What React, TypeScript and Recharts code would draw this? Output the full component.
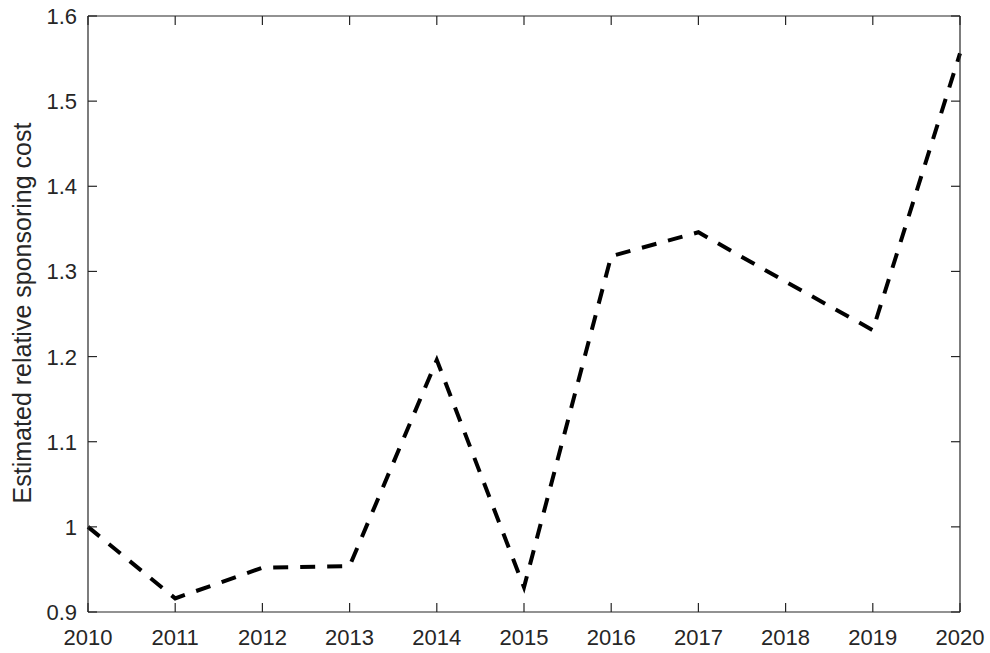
import { LineChart, Line, XAxis, YAxis } from "recharts";

const years = [2010, 2011, 2012, 2013, 2014, 2015, 2016, 2017, 2018, 2019, 2020];
const cost = [1.0, 0.916, 0.952, 0.954, 1.196, 0.929, 1.318, 1.346, 1.288, 1.231, 1.556];
const yTicks = [0.9, 1.0, 1.1, 1.2, 1.3, 1.4, 1.5, 1.6];

const data = years.map((year, i) => ({ year, cost: cost[i] }));

const AXIS = "#262626";
const FONT = "'Liberation Sans', Arial, sans-serif";
const TICK = 9;

const fmt = (v: number) => String(Number(v.toFixed(1)));

const BottomTick = (props: any) => {
  const { x, y, payload } = props;
  return (
    <g>
      <line x1={x} y1={y} x2={x} y2={y - TICK} stroke={AXIS} strokeWidth={1.2} />
      <text x={x} y={y + 33} textAnchor="middle" fontSize={22} fill={AXIS} fontFamily={FONT}>
        {payload.value}
      </text>
    </g>
  );
};

const TopTick = (props: any) => {
  const { x, y } = props;
  return <line x1={x} y1={y} x2={x} y2={y + TICK} stroke={AXIS} strokeWidth={1.2} />;
};

const LeftTick = (props: any) => {
  const { x, y, payload } = props;
  return (
    <g>
      <line x1={x} y1={y} x2={x + TICK} y2={y} stroke={AXIS} strokeWidth={1.2} />
      <text x={x - 11} y={y + 8} textAnchor="end" fontSize={22} fill={AXIS} fontFamily={FONT}>
        {fmt(payload.value)}
      </text>
    </g>
  );
};

const RightTick = (props: any) => {
  const { x, y } = props;
  return <line x1={x} y1={y} x2={x - TICK} y2={y} stroke={AXIS} strokeWidth={1.2} />;
};

export default function App() {
  return (
    <div style={{ position: "absolute", left: 0, top: 0, width: 990, height: 653, background: "#fff" }}>
      <LineChart width={990} height={653} data={data} margin={{ top: 15, right: 29, bottom: 0, left: 0 }}>
        <XAxis
          dataKey="year"
          type="number"
          domain={[2010, 2020]}
          ticks={years}
          height={41}
          tickSize={0}
          tickMargin={0}
          interval={0}
          axisLine={{ stroke: AXIS, strokeWidth: 1.2 }}
          tickLine={false}
          tick={BottomTick}
        />
        <XAxis
          xAxisId="top"
          orientation="top"
          dataKey="year"
          type="number"
          domain={[2010, 2020]}
          ticks={years}
          height={1}
          tickSize={0}
          tickMargin={0}
          interval={0}
          axisLine={{ stroke: AXIS, strokeWidth: 1.2 }}
          tickLine={false}
          tick={TopTick}
        />
        <YAxis
          type="number"
          domain={[0.9, 1.6]}
          ticks={yTicks}
          width={88}
          tickSize={0}
          tickMargin={0}
          interval={0}
          axisLine={{ stroke: AXIS, strokeWidth: 1.2 }}
          tickLine={false}
          tick={LeftTick}
        />
        <YAxis
          yAxisId="right"
          orientation="right"
          type="number"
          domain={[0.9, 1.6]}
          ticks={yTicks}
          width={1}
          tickSize={0}
          tickMargin={0}
          interval={0}
          axisLine={{ stroke: AXIS, strokeWidth: 1.2 }}
          tickLine={false}
          tick={RightTick}
        />
        {/* invisible twin so the top/right box axes have a series bound to them */}
        <Line
          xAxisId="top"
          yAxisId="right"
          type="linear"
          dataKey="cost"
          stroke="none"
          dot={false}
          activeDot={false}
          isAnimationActive={false}
        />
        <Line
          type="linear"
          dataKey="cost"
          stroke="#000"
          strokeWidth={4}
          strokeDasharray="15 12"
          dot={false}
          activeDot={false}
          isAnimationActive={false}
        />
        <text
          x={0}
          y={0}
          transform="translate(31, 313) rotate(-90)"
          textAnchor="middle"
          fontSize={25}
          fill={AXIS}
          fontFamily={FONT}
        >
          Estimated relative sponsoring cost
        </text>
      </LineChart>
    </div>
  );
}
